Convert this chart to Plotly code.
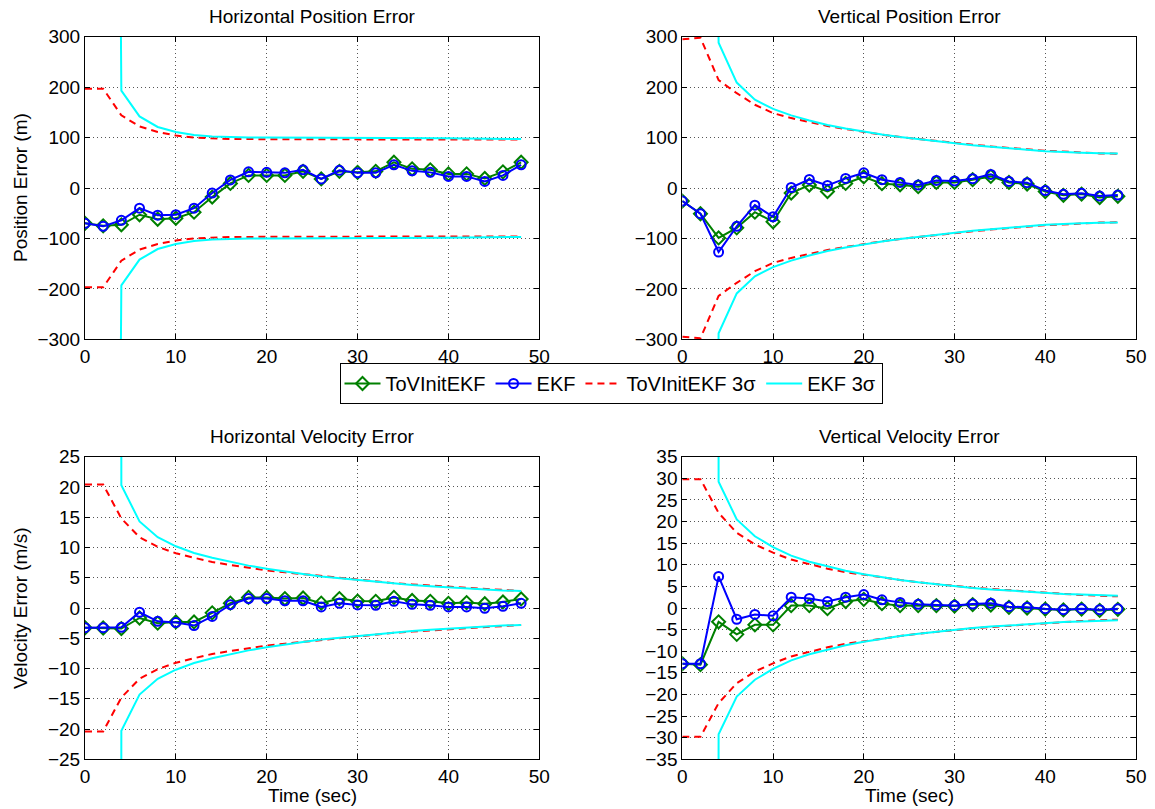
import plotly.graph_objects as go

# Sample times (sec)
t = list(range(0, 50, 2))

# Horizontal position error (m)
hpos_tov = [-70, -75, -73, -53, -62, -60, -48, -18, 9, 25, 25, 25, 33, 18, 33, 31,
            33, 51, 38, 36, 28, 28, 19, 32, 51]
hpos_ekf = [-70, -76, -64, -40, -54, -53, -40, -10, 16, 32, 31, 30, 36, 18, 35, 30,
            30, 46, 34, 31, 23, 23, 13, 25, 46]
hpos_tov_3s = [197, 197, 144, 122, 111, 104, 100, 98, 97, 97, 96.5, 96.5, 96.5, 96.5,
               96.5, 96.5, 96.5, 96.5, 96.5, 96.5, 96.5, 96, 96, 96, 96]
hpos_ekf_3s = [1e4, 1e4, 193, 142, 121, 111, 105, 102, 100.7, 100, 100, 100, 100, 100,
               100, 100, 100, 99.5, 99, 99, 98.5, 98, 97.5, 97, 97]

# Vertical position error (m)
vpos_tov = [-26, -51, -99, -79, -48, -67, -10, 6, -7, 9, 22, 8.5, 6.5, 2.6, 11, 11,
            16.5, 23, 11, 8, -7, -14.5, -12, -19, -16.5]
vpos_ekf = [-26, -51, -127, -76, -34, -57, 1, 17, 5, 19, 30, 16.5, 11, 6, 15, 14,
            18.5, 27, 13, 10.5, -5, -12.5, -10.5, -16, -14]
vpos_tov_3s = [295, 298, 214, 188, 165, 148.5, 138.6, 130.7, 123, 117, 111, 105.6, 101,
               97, 93, 89, 86, 82.5, 79, 76.6, 74, 72, 70, 68.6, 68]
vpos_ekf_3s = [1e4, 1e4, 288, 209, 175, 157, 144, 134, 125, 118, 111.5, 106, 101, 97,
               92.4, 88.5, 85, 82, 78.5, 76, 73, 71, 70, 69, 68.6]

# Horizontal velocity error (m/s)
hvel_tov = [-3.26, -3.3, -3.4, -1.65, -2.5, -2.3, -2.3, -0.8, 0.8, 1.75, 1.75, 1.55,
            1.65, 0.8, 1.55, 1.15, 1.1, 1.75, 1.25, 1.1, 0.77, 0.9, 0.7, 1.0, 1.5]
hvel_ekf = [-3.26, -3.26, -3.2, -0.7, -2.2, -2.4, -2.9, -1.4, 0.55, 1.55, 1.55, 1.2,
            1.2, 0.17, 0.77, 0.5, 0.44, 1.1, 0.6, 0.44, 0.17, 0.17, -0.05, 0.28, 0.77]
hvel_tov_3s = [20.4, 20.4, 14.8, 11.7, 10.1, 9.05, 8.3, 7.6, 7.1, 6.6, 6.2, 5.9, 5.6,
               5.2, 5.0, 4.6, 4.4, 4.1, 3.9, 3.7, 3.5, 3.3, 3.1, 2.9, 2.8]
hvel_ekf_3s = [1e4, 1e4, 20.3, 14.3, 11.7, 10.2, 9.1, 8.3, 7.6, 7.0, 6.5, 6.0, 5.6,
               5.2, 4.9, 4.6, 4.3, 4.0, 3.8, 3.6, 3.4, 3.3, 3.1, 2.9, 2.8]

# Vertical velocity error (m/s)
vvel_tov = [-12.9, -13.1, -3.2, -6.1, -3.9, -3.9, 0.55, 0.55, -0.15, 1.5, 2.0, 1.0,
            0.55, 0.55, 0.55, 0.45, 0.8, 0.7, 0.15, 0, -0.25, -0.45, -0.25, -0.55, -0.3]
vvel_ekf = [-12.9, -12.9, 7.3, -2.6, -1.5, -1.8, 2.5, 2.2, 1.5, 2.5, 3.1, 1.9, 1.3,
            0.85, 0.7, 0.6, 0.9, 1.1, 0.3, 0.2, -0.15, -0.4, -0.15, -0.4, -0.2]
vvel_tov_3s = [29.8, 29.8, 22.0, 17.4, 14.7, 12.8, 11.2, 10.1, 9.1, 8.3, 7.65, 7.0,
               6.5, 5.95, 5.5, 5.1, 4.7, 4.4, 4.1, 3.8, 3.5, 3.25, 3.0, 2.85, 2.7]
vvel_ekf_3s = [1e4, 1e4, 29.2, 20.5, 16.6, 14.1, 12.1, 10.7, 9.6, 8.6, 7.8, 7.1, 6.5,
               5.95, 5.5, 5.0, 4.6, 4.3, 4.0, 3.7, 3.5, 3.25, 3.1, 2.9, 2.86]

titles = ["Horizontal Position Error", "Vertical Position Error",
          "Horizontal Velocity Error", "Vertical Velocity Error"]
y_ranges = [(-300, 300), (-300, 300), (-25, 25), (-35, 35)]
y_dticks = [100, 100, 5, 5]

panels = [
    (hpos_tov, hpos_ekf, hpos_tov_3s, hpos_ekf_3s),
    (vpos_tov, vpos_ekf, vpos_tov_3s, vpos_ekf_3s),
    (hvel_tov, hvel_ekf, hvel_tov_3s, hvel_ekf_3s),
    (vvel_tov, vvel_ekf, vvel_tov_3s, vvel_ekf_3s),
]

W, H = 1155, 809
FONT = "Liberation Sans, Arial, Helvetica, sans-serif"
FS = 19

# pixel boxes of each axes: (left, right, top, bottom)
boxes = [(85, 539.3, 36.7, 339.3), (682.3, 1136, 36.7, 339.3),
         (85, 539.3, 456.7, 759.3), (682.3, 1136, 456.7, 759.3)]

GREEN, BLUE, RED, CYAN = "#008000", "#0000FF", "#FF0000", "#00FFFF"

fig = go.Figure()
layout = dict(
    width=W, height=H,
    margin=dict(l=0, r=0, t=0, b=0),
    paper_bgcolor="white", plot_bgcolor="white",
    font=dict(family=FONT, size=FS, color="black"),
    showlegend=True,
    legend=dict(orientation="h", x=611 / W, y=1 - 383.5 / H,
                xanchor="center", yanchor="middle",
                bordercolor="black", borderwidth=1, bgcolor="white",
                font=dict(size=20), itemwidth=36, tracegroupgap=0),
)

annotations = []
for i, (tov, ekf, tov3, ekf3) in enumerate(panels):
    n = "" if i == 0 else str(i + 1)
    xa, ya = "x" + n, "y" + n
    first = i == 0
    neg = lambda arr: [-v for v in arr]
    fig.add_trace(go.Scatter(x=t, y=tov, xaxis=xa, yaxis=ya, name="ToVInitEKF",
                             mode="lines+markers", showlegend=first, legendgroup="a",
                             line=dict(color=GREEN, width=2),
                             marker=dict(symbol="diamond-open", size=10, color=GREEN,
                                         line=dict(width=2, color=GREEN))))
    fig.add_trace(go.Scatter(x=t, y=ekf, xaxis=xa, yaxis=ya, name="EKF",
                             mode="lines+markers", showlegend=first, legendgroup="b",
                             line=dict(color=BLUE, width=2),
                             marker=dict(symbol="circle-open", size=9, color=BLUE,
                                         line=dict(width=2, color=BLUE))))
    for sgn, arr in ((1, tov3), (-1, neg(tov3))):
        fig.add_trace(go.Scatter(x=t, y=arr, xaxis=xa, yaxis=ya, name="ToVInitEKF 3σ",
                                 mode="lines", showlegend=first and sgn == 1,
                                 legendgroup="c",
                                 line=dict(color=RED, width=2, dash="7px,5px")))
    for sgn, arr in ((1, ekf3), (-1, neg(ekf3))):
        fig.add_trace(go.Scatter(x=t, y=arr, xaxis=xa, yaxis=ya, name="EKF 3σ",
                                 mode="lines", showlegend=first and sgn == 1,
                                 legendgroup="d",
                                 line=dict(color=CYAN, width=2)))

    l, r, tp, b = boxes[i]
    axis_common = dict(showline=True, linecolor="black", linewidth=1, mirror="ticks",
                       ticks="inside", ticklen=5, tickcolor="black", automargin=False,
                       showgrid=True, gridcolor="#555555", griddash="1px,3px",
                       gridwidth=1, zeroline=False,
                       tickfont=dict(size=FS, family=FONT, color="black"))
    layout["xaxis" + n] = dict(axis_common, domain=[l / W, r / W], anchor=ya,
                               range=[0, 50], dtick=10, tick0=0)
    layout["yaxis" + n] = dict(axis_common, domain=[1 - b / H, 1 - tp / H], anchor=xa,
                               range=list(y_ranges[i]), dtick=y_dticks[i], tick0=0)
    annotations.append(dict(text=titles[i], xref="paper", yref="paper",
                            x=(l + r) / 2 / W, y=1 - (tp - 20) / H,
                            xanchor="center", yanchor="middle", showarrow=False,
                            font=dict(size=FS)))
    if i >= 2:
        annotations.append(dict(text="Time (sec)", xref="paper", yref="paper",
                                x=(l + r) / 2 / W, y=1 - 795 / H,
                                xanchor="center", yanchor="middle", showarrow=False,
                                font=dict(size=FS)))

annotations.append(dict(text="Position Error (m)", xref="paper", yref="paper",
                        x=20 / W, y=1 - 188 / H, textangle=-90,
                        xanchor="center", yanchor="middle", showarrow=False,
                        font=dict(size=FS)))
annotations.append(dict(text="Velocity Error (m/s)", xref="paper", yref="paper",
                        x=20 / W, y=1 - 608 / H, textangle=-90,
                        xanchor="center", yanchor="middle", showarrow=False,
                        font=dict(size=FS)))
layout["annotations"] = annotations

fig.update_layout(**layout)
fig.write_html("out.html")
